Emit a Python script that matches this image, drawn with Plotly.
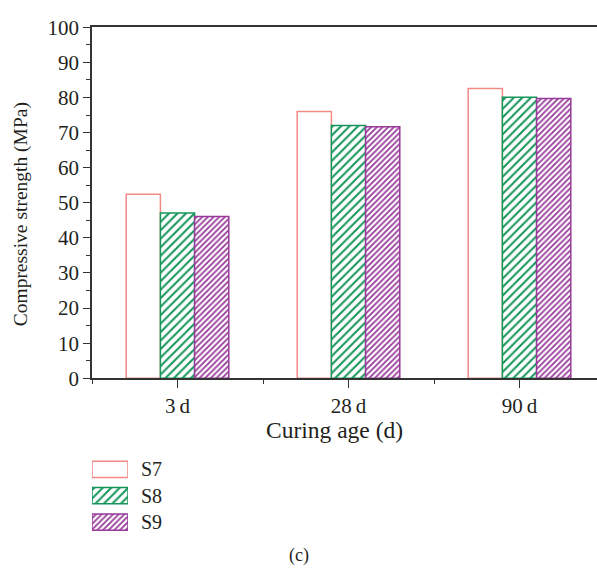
import plotly.graph_objects as go

categories = ["3\u2009d", "28\u2009d", "90\u2009d"]
series_names = ["S7", "S8", "S9"]
s7 = [52.4, 76.0, 82.6]
s8 = [47.1, 72.0, 80.1]
s9 = [46.1, 71.7, 79.7]
y_ticks = list(range(0, 101, 10))

line_colors = ["#f28a86", "#16965a", "#973a99"]
pat_shapes = ["", "/", "/"]
pat_sizes = [6, 6, 4]
pat_solid = [0.3, 0.34, 0.45]

W, H = 597, 582
FONT = "Liberation Serif"
TXT = "#231f20"

# plot area in pixels
L, R, T, B = 92, 597, 16, 382

x_pos = list(range(len(categories)))
fig = go.Figure()
for name, vals, lc, ps, sz, so in zip(series_names, [s7, s8, s9], line_colors, pat_shapes, pat_sizes, pat_solid):
    fig.add_trace(go.Bar(
        x=x_pos, y=vals, name=name, showlegend=False,
        marker=dict(color="white", line=dict(color=lc, width=1.5),
                    pattern=dict(shape=ps, fgcolor=lc, bgcolor="white", size=sz, solidity=so, fillmode="replace")),
        xaxis="x", yaxis="y",
    ))

# legend drawn as a small subplot
for name, lc, ps, sz, so in zip(series_names, line_colors, pat_shapes, pat_sizes, pat_solid):
    fig.add_trace(go.Bar(
        y=[name], x=[1], orientation="h", showlegend=False, width=0.62, offset=-0.31,
        marker=dict(color="white", line=dict(color=lc, width=1.5),
                    pattern=dict(shape=ps, fgcolor=lc, bgcolor="white", size=sz, solidity=so, fillmode="replace")),
        xaxis="x2", yaxis="y2", hoverinfo="skip",
    ))

px_per_unit = 171.0
x_right = -0.5 + (R - L) / px_per_unit

fig.update_layout(
    width=W, height=H,
    margin=dict(l=0, r=0, t=0, b=0),
    paper_bgcolor="white", plot_bgcolor="white",
    barmode="group", bargap=0.4, bargroupgap=0,
    font=dict(family=FONT, color=TXT, size=21),
    xaxis=dict(
        domain=[L / W, R / W], range=[-0.5, x_right],
        tickmode="array", tickvals=x_pos, ticktext=categories,
        ticks="outside", ticklen=8, tickwidth=1.3, tickcolor="#333",
        minor=dict(tickmode="array", tickvals=[-0.5, 0.5, 1.5, 2.5], ticklen=4, tickwidth=1.3, tickcolor="#333", ticks="outside"),
        showline=True, linecolor="#333", linewidth=1.5, mirror=True,
        showgrid=False, zeroline=False, tickfont=dict(size=21, family=FONT, color=TXT),
        anchor="y", fixedrange=True,
    ),
    yaxis=dict(
        domain=[1 - B / H, 1 - T / H], range=[0, 100],
        tickmode="array", tickvals=y_ticks,
        ticks="outside", ticklen=7, tickwidth=1.3, tickcolor="#333",
        minor=dict(dtick=5, tick0=0, ticklen=4, tickwidth=1.3, tickcolor="#333", ticks="outside", showgrid=False),
        showline=True, linecolor="#333", linewidth=1.5,
        showgrid=False, zeroline=False, tickfont=dict(size=21, family=FONT, color=TXT),
        anchor="x", fixedrange=True,
    ),
    xaxis2=dict(domain=[L / W, 128 / W], range=[0, 1], visible=False, anchor="y2", fixedrange=True),
    yaxis2=dict(domain=[(H - 545.75) / H, (H - 463.25) / H], range=[2.5, -0.5], visible=False,
                anchor="x2", type="category", categoryorder="array", categoryarray=series_names, fixedrange=True),
)

annos = [
    dict(text="Compressive strength (MPa)", x=21 / W, y=1 - 211 / H, textangle=-90, font=dict(size=19.5)),
    dict(text="Curing age (d)", x=334 / W, y=1 - 436 / H, font=dict(size=23.5)),
    dict(text="(c)", x=299 / W, y=1 - 567 / H, font=dict(size=18)),
]
row_y = [477, 504.5, 532]
for name, yy in zip(series_names, row_y):
    annos.append(dict(text=name, x=139 / W, y=1 - yy / H, xanchor="left", font=dict(size=20)))
for a in annos:
    a.setdefault("xanchor", "center")
    a.update(xref="paper", yref="paper", yanchor="middle", showarrow=False)
    a["font"].update(family=FONT, color=TXT)
fig.update_layout(annotations=annos)

fig.write_html("out.html")
